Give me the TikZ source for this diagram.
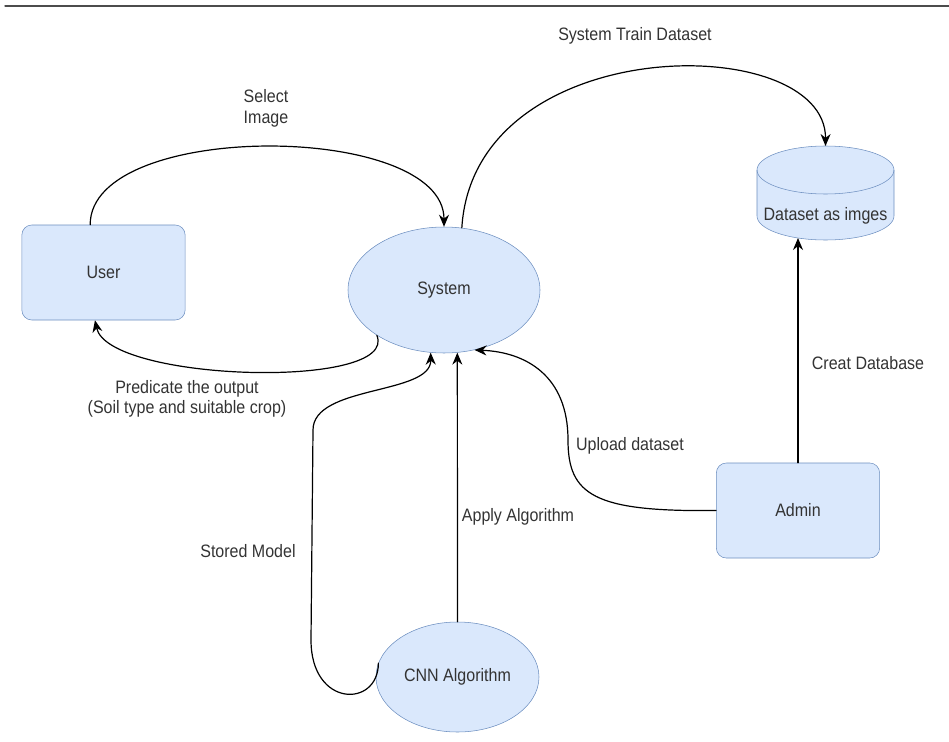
\documentclass[tikz,border=0pt]{standalone}
\usepackage{fontspec}
\setmainfont{Liberation Sans}[FakeStretch=0.89]
\usetikzlibrary{arrows.meta,shapes.geometric}

\definecolor{boxfill}{HTML}{DAE8FC}
\definecolor{boxline}{HTML}{6C8EBF}
\definecolor{inkgray}{HTML}{333333}

\begin{document}
\begin{tikzpicture}[x=0.75pt, y=0.75pt, line join=round, line cap=round,
  every node/.style={font=\fontsize{13.5}{15}\selectfont, text=inkgray},
  procbox/.style={draw=boxline, fill=boxfill, rounded corners=7.5pt, minimum width=122.5pt, minimum height=71.25pt},
  procoval/.style={draw=boxline, fill=boxfill, ellipse, inner sep=0pt},
  flow/.style={-{Stealth[length=9pt,width=7.5pt]}, line width=0.9pt}]

\useasboundingbox (0,0) rectangle (949,-742);
\draw[gray!60!black, line width=1pt] (5,-6) -- (949,-6);

\node[procbox] (user) at (103.5,-272.5) {User};
\node[procoval, minimum width=144pt, minimum height=94.5pt] (system) at (444,-290) {System};
\node[procoval, minimum width=122.25pt, minimum height=82.5pt] (cnn) at (457.5,-677) {CNN Algorithm};
\node[procbox] (admin) at (798,-510.5) {Admin};

\path[draw=boxline, fill=boxfill] (757,-170) -- (757,-216)
  arc[start angle=180, end angle=360, x radius=68.5, y radius=24] -- (894,-170)
  arc[start angle=0, end angle=180, x radius=68.5, y radius=24] -- cycle;
\draw[boxline] (757,-170) arc[start angle=180, end angle=360, x radius=68.5, y radius=24];
\node (dataset) at (825.5,-216) {Dataset as imges};
\coordinate (dbtop) at (825.5,-146);
\coordinate (dbbase) at (798,-238);

\draw[flow] ([xshift=-10pt]user.north) .. controls +(0,105) and +(0,105) .. (system.north);
\draw[flow] (system.74) .. controls (474,-30) and (826,-30) .. (dbtop);
\draw[flow] (system.214) .. controls (400,-390) and (108,-382) .. ([xshift=-6.4pt]user.south);
\draw[flow] (admin.west) .. controls (594,-512) and (568,-495) .. (568,-440)
  .. controls (568,-375) and (525,-352) .. (system.-63);
\draw[flow] (admin.north) -- (dbbase);
\draw[flow] (cnn.north) -- (system.-78);
\draw[flow] (cnn.170) .. controls +(0,-45) and (311,-708) .. (311,-640) -- (313,-430)
  .. controls (313,-385) and (431,-395) .. (system.258);

\node (selectlbl) at (266,-108) [align=center, font=\fontsize{13.5}{15.75}\selectfont] {Select\\Image};
\node (trainlbl) at (635,-36) {System Train Dataset};
\node (predictlbl) at (187,-399) [align=center] {Predicate the output\\(Soil type and suitable crop)};
\node (uploadlbl) at (630,-446) {Upload dataset};
\node (createlbl) at (868,-363) {Creat Database};
\node (applylbl) at (518,-517) {Apply Algorithm};
\node (storedlbl) at (248,-551) {Stored Model};
\end{tikzpicture}
\end{document}
